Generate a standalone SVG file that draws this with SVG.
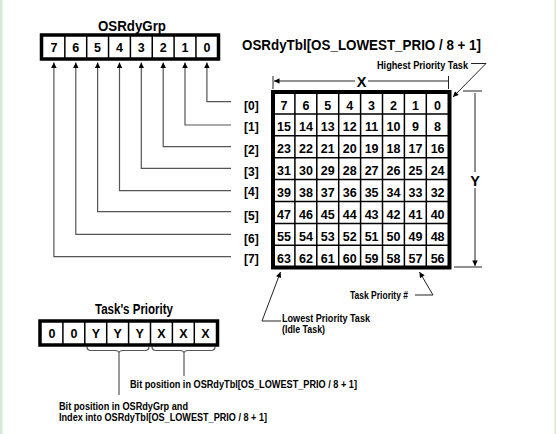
<svg xmlns="http://www.w3.org/2000/svg" width="556" height="434" viewBox="0 0 556 434">
<style>
text{font-family:"Liberation Sans",Arial,sans-serif;fill:#000}
.t{font-size:14.5px;font-weight:bold}
.d{font-size:12.5px;font-weight:bold;text-anchor:middle}
.s{font-size:10.8px;font-weight:bold}
.l{font-size:12px;font-weight:bold}
.frame{fill:#fff;stroke:#000;stroke-width:3.5}
.grid{stroke:#000;stroke-width:1.5;fill:none}
.ln{stroke:#555;stroke-width:1.2;fill:none}
.lk{stroke:#222;stroke-width:1;fill:none}
</style>
<defs>
<marker id="ah" viewBox="0 0 10 10" refX="10" refY="5" markerWidth="7" markerHeight="5.5" markerUnits="userSpaceOnUse" orient="auto">
<path d="M0,0 L10,5 L0,10 z" fill="#000"/>
</marker>
</defs>
<rect x="0" y="0" width="556" height="434" fill="#fff"/>
<rect x="0" y="0" width="2.5" height="434" fill="#d3ead6"/>
<rect x="554.5" y="0" width="1.5" height="434" fill="#d3ead6"/>

<g id="osrdygrp">
<text class="t" x="132" y="31" text-anchor="middle" textLength="68" lengthAdjust="spacingAndGlyphs">OSRdyGrp</text>
<rect class="frame" x="41.5" y="35" width="177" height="24"/>
<path class="grid" d="M64.85,35V59 M86.7,35V59 M108.55,35V59 M130.4,35V59 M152.25,35V59 M174.1,35V59 M195.95,35V59"/>
<text class="d" x="53.9" y="51.5">7</text>
<text class="d" x="75.8" y="51.5">6</text>
<text class="d" x="97.6" y="51.5">5</text>
<text class="d" x="119.5" y="51.5">4</text>
<text class="d" x="141.3" y="51.5">3</text>
<text class="d" x="163.2" y="51.5">2</text>
<text class="d" x="185" y="51.5">1</text>
<text class="d" x="206.9" y="51.5">0</text>
</g>

<g id="connectors">
<path class="ln" marker-end="url(#ah)" d="M231,101.7H206.9V62.5"/>
<path class="ln" marker-end="url(#ah)" d="M231,125H185V62.5"/>
<path class="ln" marker-end="url(#ah)" d="M231,146.7H163.2V62.5"/>
<path class="ln" marker-end="url(#ah)" d="M231,168.3H141.3V62.5"/>
<path class="ln" marker-end="url(#ah)" d="M231,190.7H119.5V62.5"/>
<path class="ln" marker-end="url(#ah)" d="M231,211.7H97.6V62.5"/>
<path class="ln" marker-end="url(#ah)" d="M231,234.3H75.8V62.5"/>
<path class="ln" marker-end="url(#ah)" d="M231,256.7H53.9V62.5"/>
<path class="lk" d="M273,76V89 M448.5,76V89"/>
<path class="lk" marker-end="url(#ah)" d="M448.5,81H274"/>
<path class="lk" d="M463,91H482 M454,267H482"/>
<path class="lk" marker-end="url(#ah)" d="M475,93V266"/>
<path class="lk" marker-end="url(#ah)" d="M471,63.5H486L453,97"/>
<path class="lk" marker-end="url(#ah)" d="M415,295H433L419.5,272"/>
<path class="lk" marker-end="url(#ah)" d="M281,321H262L280.5,272"/>
<path class="ln" d="M87,346.5Q87,350.5 91,350.5H115Q119,350.5 119,353.5Q119,350.5 123,350.5H145Q149,350.5 149,346.5"/>
<path class="ln" d="M152,346.5Q152,350.5 156,350.5H180Q184,350.5 184,353.5Q184,350.5 188,350.5H211Q215,350.5 215,346.5"/>
<path class="ln" d="M119,353.5V395"/>
<path class="ln" d="M184,353.5V376"/>
</g>

<g id="row-labels">
<text class="l" x="244" y="109.5">[0]</text>
<text class="l" x="244" y="131">[1]</text>
<text class="l" x="244" y="154">[2]</text>
<text class="l" x="244" y="176">[3]</text>
<text class="l" x="244" y="195.5">[4]</text>
<text class="l" x="244" y="220">[5]</text>
<text class="l" x="244" y="242.5">[6]</text>
<text class="l" x="244" y="263">[7]</text>
</g>

<g id="osrdytbl">
<text class="t" x="242" y="50" textLength="239" lengthAdjust="spacingAndGlyphs">OSRdyTbl[OS_LOWEST_PRIO / 8 + 1]</text>
<rect x="355" y="74" width="13" height="14" fill="#fff"/>
<text class="t" x="361.5" y="86.5" text-anchor="middle">X</text>
<rect x="468" y="172" width="14" height="16" fill="#fff"/>
<text class="t" x="475" y="185.5" text-anchor="middle">Y</text>
<rect class="frame" x="273" y="92" width="176.5" height="175.5" style="stroke-width:4"/>
<path class="grid" d="M294.9,92V267.5 M316.8,92V267.5 M338.7,92V267.5 M360.6,92V267.5 M382.5,92V267.5 M404.4,92V267.5 M426.3,92V267.5
M273,113.9H449.5 M273,135.8H449.5 M273,157.7H449.5 M273,179.6H449.5 M273,201.5H449.5 M273,223.4H449.5 M273,245.3H449.5"/>
<g class="cells">
<text class="d" x="284" y="109.5">7</text><text class="d" x="305.9" y="109.5">6</text><text class="d" x="327.8" y="109.5">5</text><text class="d" x="349.7" y="109.5">4</text><text class="d" x="371.6" y="109.5">3</text><text class="d" x="393.5" y="109.5">2</text><text class="d" x="415.4" y="109.5">1</text><text class="d" x="437.6" y="109.5">0</text>
<text class="d" x="284" y="131.4">15</text><text class="d" x="305.9" y="131.4">14</text><text class="d" x="327.8" y="131.4">13</text><text class="d" x="349.7" y="131.4">12</text><text class="d" x="371.6" y="131.4">11</text><text class="d" x="393.5" y="131.4">10</text><text class="d" x="415.4" y="131.4">9</text><text class="d" x="437.6" y="131.4">8</text>
<text class="d" x="284" y="153.3">23</text><text class="d" x="305.9" y="153.3">22</text><text class="d" x="327.8" y="153.3">21</text><text class="d" x="349.7" y="153.3">20</text><text class="d" x="371.6" y="153.3">19</text><text class="d" x="393.5" y="153.3">18</text><text class="d" x="415.4" y="153.3">17</text><text class="d" x="437.6" y="153.3">16</text>
<text class="d" x="284" y="175.2">31</text><text class="d" x="305.9" y="175.2">30</text><text class="d" x="327.8" y="175.2">29</text><text class="d" x="349.7" y="175.2">28</text><text class="d" x="371.6" y="175.2">27</text><text class="d" x="393.5" y="175.2">26</text><text class="d" x="415.4" y="175.2">25</text><text class="d" x="437.6" y="175.2">24</text>
<text class="d" x="284" y="197.1">39</text><text class="d" x="305.9" y="197.1">38</text><text class="d" x="327.8" y="197.1">37</text><text class="d" x="349.7" y="197.1">36</text><text class="d" x="371.6" y="197.1">35</text><text class="d" x="393.5" y="197.1">34</text><text class="d" x="415.4" y="197.1">33</text><text class="d" x="437.6" y="197.1">32</text>
<text class="d" x="284" y="219">47</text><text class="d" x="305.9" y="219">46</text><text class="d" x="327.8" y="219">45</text><text class="d" x="349.7" y="219">44</text><text class="d" x="371.6" y="219">43</text><text class="d" x="393.5" y="219">42</text><text class="d" x="415.4" y="219">41</text><text class="d" x="437.6" y="219">40</text>
<text class="d" x="284" y="240.9">55</text><text class="d" x="305.9" y="240.9">54</text><text class="d" x="327.8" y="240.9">53</text><text class="d" x="349.7" y="240.9">52</text><text class="d" x="371.6" y="240.9">51</text><text class="d" x="393.5" y="240.9">50</text><text class="d" x="415.4" y="240.9">49</text><text class="d" x="437.6" y="240.9">48</text>
<text class="d" x="284" y="262.8">63</text><text class="d" x="305.9" y="262.8">62</text><text class="d" x="327.8" y="262.8">61</text><text class="d" x="349.7" y="262.8">60</text><text class="d" x="371.6" y="262.8">59</text><text class="d" x="393.5" y="262.8">58</text><text class="d" x="415.4" y="262.8">57</text><text class="d" x="437.6" y="262.8">56</text>
</g>
</g>

<g id="annotations">
<text class="s" x="377" y="69" textLength="91" lengthAdjust="spacingAndGlyphs">Highest Priority Task</text>
<text class="s" x="350" y="299" textLength="58" lengthAdjust="spacingAndGlyphs">Task Priority #</text>
<text class="s" x="282" y="322" textLength="88" lengthAdjust="spacingAndGlyphs">Lowest Priority Task</text>
<text class="s" x="282" y="332.5" textLength="43" lengthAdjust="spacingAndGlyphs">(Idle Task)</text>
<text class="s" x="130" y="388" textLength="227" lengthAdjust="spacingAndGlyphs">Bit position in OSRdyTbl[OS_LOWEST_PRIO / 8 + 1]</text>
<text class="s" x="59" y="410" textLength="129" lengthAdjust="spacingAndGlyphs">Bit position in OSRdyGrp and</text>
<text class="s" x="59" y="420.5" textLength="208" lengthAdjust="spacingAndGlyphs">Index into OSRdyTbl[OS_LOWEST_PRIO / 8 + 1]</text>
</g>

<g id="task-priority">
<text class="t" x="134" y="314" text-anchor="middle" textLength="78" lengthAdjust="spacingAndGlyphs">Task's Priority</text>
<rect class="frame" x="40" y="321" width="177.5" height="24"/>
<path class="grid" d="M62.9,321V345 M84.8,321V345 M106.7,321V345 M128.6,321V345 M150.5,321V345 M172.4,321V345 M194.3,321V345"/>
<text class="d" x="52" y="337.5">0</text>
<text class="d" x="73.9" y="337.5">0</text>
<text class="d" x="95.8" y="337.5">Y</text>
<text class="d" x="117.7" y="337.5">Y</text>
<text class="d" x="139.6" y="337.5">Y</text>
<text class="d" x="161.5" y="337.5">X</text>
<text class="d" x="183.4" y="337.5">X</text>
<text class="d" x="205.5" y="337.5">X</text>
</g>
</svg>
